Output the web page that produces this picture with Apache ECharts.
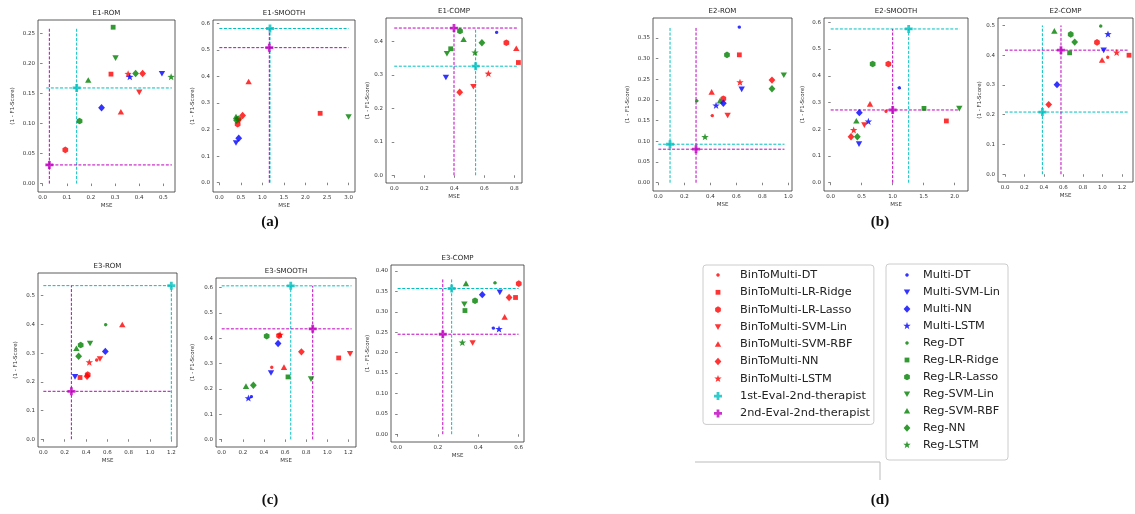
<!doctype html>
<html>
<head>
<meta charset="utf-8">
<title>MSE vs (1 - F1-Score)</title>
<script src="https://cdn.jsdelivr.net/npm/echarts@6/dist/echarts.min.js"></script>
<style>
  html, body { margin: 0; padding: 0; background: #fff; }
  #main { width: 1135px; height: 514px; }
</style>
</head>
<body>
<div id="main"></div>
<script>
// ---- names ----
var leftNames = ['BinToMulti-DT', 'BinToMulti-LR-Ridge', 'BinToMulti-LR-Lasso', 'BinToMulti-SVM-Lin',
  'BinToMulti-SVM-RBF', 'BinToMulti-NN', 'BinToMulti-LSTM', '1st-Eval-2nd-therapist', '2nd-Eval-2nd-therapist'];
var rightNames = ['Multi-DT', 'Multi-SVM-Lin', 'Multi-SVM-RBF', 'Multi-NN', 'Multi-LSTM', 'Reg-DT',
  'Reg-LR-Ridge', 'Reg-LR-Lasso', 'Reg-SVM-Lin', 'Reg-SVM-RBF', 'Reg-NN', 'Reg-LSTM'];
var titles = ['E1-ROM', 'E1-SMOOTH', 'E1-COMP', 'E2-ROM', 'E2-SMOOTH', 'E2-COMP', 'E3-ROM', 'E3-SMOOTH', 'E3-COMP'];

// ---- model points: [model, MSE, 1 - F1] ----
var e1Rom = [
  ['BinToMulti-LR-Lasso', 0.094, 0.056], ['Reg-LR-Lasso', 0.153, 0.104], ['Reg-SVM-RBF', 0.189, 0.172],
  ['Multi-NN', 0.244, 0.126], ['Reg-LR-Ridge', 0.292, 0.26], ['Reg-SVM-Lin', 0.302, 0.209],
  ['BinToMulti-LR-Ridge', 0.283, 0.182], ['BinToMulti-SVM-RBF', 0.324, 0.119], ['BinToMulti-LSTM', 0.354, 0.182],
  ['Multi-LSTM', 0.361, 0.177], ['Reg-NN', 0.385, 0.183], ['BinToMulti-SVM-Lin', 0.4, 0.152],
  ['BinToMulti-NN', 0.414, 0.183], ['Multi-SVM-Lin', 0.494, 0.183], ['Reg-LSTM', 0.532, 0.177]
];
var e1Smooth = [
  ['BinToMulti-SVM-RBF', 0.68, 0.38], ['BinToMulti-LR-Ridge', 2.34, 0.261], ['Reg-SVM-Lin', 3.0, 0.248],
  ['Reg-SVM-RBF', 0.387, 0.248], ['Reg-LR-Lasso', 0.44, 0.24], ['BinToMulti-NN', 0.54, 0.253],
  ['BinToMulti-LR-Lasso', 0.425, 0.22], ['BinToMulti-SVM-Lin', 0.464, 0.233], ['Reg-NN', 0.40, 0.235],
  ['Multi-NN', 0.45, 0.167], ['Multi-SVM-Lin', 0.387, 0.15]
];
var e1Comp = [
  ['Reg-LR-Lasso', 0.438, 0.431], ['Reg-SVM-RBF', 0.462, 0.406], ['Multi-DT', 0.682, 0.427],
  ['Reg-NN', 0.584, 0.396], ['BinToMulti-LR-Lasso', 0.747, 0.396], ['BinToMulti-SVM-RBF', 0.813, 0.379],
  ['BinToMulti-LR-Ridge', 0.827, 0.337], ['Reg-LR-Ridge', 0.376, 0.378], ['Reg-SVM-Lin', 0.351, 0.364],
  ['Reg-LSTM', 0.538, 0.366], ['Multi-SVM-Lin', 0.344, 0.293], ['BinToMulti-LSTM', 0.627, 0.303],
  ['BinToMulti-SVM-Lin', 0.527, 0.265], ['BinToMulti-NN', 0.436, 0.248]
];
var e2Rom = [
  ['Multi-DT', 0.623, 0.376], ['Reg-LR-Lasso', 0.528, 0.309], ['BinToMulti-LR-Ridge', 0.623, 0.309],
  ['BinToMulti-NN', 0.874, 0.248], ['Reg-NN', 0.874, 0.227], ['Reg-SVM-Lin', 0.965, 0.26],
  ['BinToMulti-LSTM', 0.628, 0.242], ['Multi-SVM-Lin', 0.641, 0.226], ['BinToMulti-SVM-RBF', 0.41, 0.219],
  ['BinToMulti-LR-Lasso', 0.5, 0.203], ['Reg-SVM-RBF', 0.474, 0.198], ['Multi-NN', 0.5, 0.192],
  ['Multi-LSTM', 0.444, 0.186], ['Reg-DT', 0.295, 0.198], ['BinToMulti-DT', 0.415, 0.162],
  ['BinToMulti-SVM-Lin', 0.533, 0.163], ['Reg-LSTM', 0.359, 0.11]
];
var e2Smooth = [
  ['Reg-LR-Lasso', 0.677, 0.444], ['BinToMulti-LR-Lasso', 0.93, 0.444], ['Multi-DT', 1.108, 0.355],
  ['BinToMulti-SVM-RBF', 0.634, 0.294], ['BinToMulti-DT', 0.892, 0.267], ['Reg-LR-Ridge', 1.505, 0.278],
  ['Reg-SVM-Lin', 2.075, 0.278], ['BinToMulti-LR-Ridge', 1.866, 0.231], ['Multi-NN', 0.462, 0.262],
  ['Reg-SVM-RBF', 0.414, 0.231], ['BinToMulti-SVM-Lin', 0.543, 0.216], ['Multi-LSTM', 0.608, 0.228],
  ['BinToMulti-LSTM', 0.371, 0.196], ['BinToMulti-NN', 0.328, 0.172], ['Reg-NN', 0.43, 0.172],
  ['Multi-SVM-Lin', 0.457, 0.145]
];
var e2Comp = [
  ['Reg-SVM-RBF', 0.507, 0.481], ['Reg-DT', 0.983, 0.498], ['Reg-LR-Lasso', 0.675, 0.47],
  ['Reg-NN', 0.716, 0.444], ['Multi-LSTM', 1.058, 0.47], ['BinToMulti-LR-Lasso', 0.945, 0.443],
  ['Reg-LR-Ridge', 0.664, 0.408], ['Multi-SVM-Lin', 1.014, 0.417], ['BinToMulti-LSTM', 1.147, 0.408],
  ['BinToMulti-LR-Ridge', 1.274, 0.4], ['BinToMulti-SVM-RBF', 0.997, 0.383], ['BinToMulti-DT', 1.055, 0.393],
  ['Multi-NN', 0.534, 0.301], ['BinToMulti-NN', 0.449, 0.234]
];
var e3Rom = [
  ['Reg-DT', 0.584, 0.399], ['BinToMulti-SVM-RBF', 0.74, 0.399], ['Reg-SVM-Lin', 0.438, 0.334],
  ['Reg-LR-Lasso', 0.35, 0.328], ['Reg-SVM-RBF', 0.31, 0.316], ['Reg-NN', 0.331, 0.289],
  ['Multi-NN', 0.581, 0.306], ['BinToMulti-LSTM', 0.431, 0.267], ['BinToMulti-DT', 0.5, 0.276],
  ['BinToMulti-SVM-Lin', 0.531, 0.28], ['BinToMulti-LR-Lasso', 0.416, 0.225], ['BinToMulti-NN', 0.41, 0.219],
  ['BinToMulti-LR-Ridge', 0.344, 0.215], ['Multi-SVM-Lin', 0.297, 0.218]
];
var e3Smooth = [
  ['Reg-LR-Lasso', 0.426, 0.408], ['BinToMulti-LR-Lasso', 0.543, 0.41], ['BinToMulti-LSTM', 0.553, 0.413],
  ['Multi-NN', 0.534, 0.379], ['BinToMulti-NN', 0.755, 0.346], ['BinToMulti-LR-Ridge', 1.108, 0.322],
  ['BinToMulti-SVM-Lin', 1.216, 0.339], ['BinToMulti-DT', 0.474, 0.285], ['BinToMulti-SVM-RBF', 0.59, 0.285],
  ['Multi-SVM-Lin', 0.467, 0.263], ['Reg-LR-Ridge', 0.628, 0.247], ['Reg-SVM-Lin', 0.846, 0.239],
  ['Reg-SVM-RBF', 0.23, 0.21], ['Reg-NN', 0.3, 0.214], ['Multi-LSTM', 0.253, 0.162], ['Multi-DT', 0.281, 0.169]
];
var e3Comp = [
  ['Reg-SVM-RBF', 0.339, 0.369], ['Reg-DT', 0.483, 0.371], ['BinToMulti-LR-Lasso', 0.601, 0.369],
  ['Multi-NN', 0.42, 0.342], ['Multi-SVM-Lin', 0.507, 0.348], ['BinToMulti-NN', 0.553, 0.335],
  ['BinToMulti-LR-Ridge', 0.585, 0.335], ['Reg-LR-Lasso', 0.384, 0.327], ['Reg-SVM-Lin', 0.331, 0.319],
  ['Reg-LR-Ridge', 0.334, 0.303], ['BinToMulti-SVM-RBF', 0.531, 0.287], ['Multi-DT', 0.475, 0.26],
  ['Multi-LSTM', 0.503, 0.257], ['Reg-LSTM', 0.321, 0.224], ['BinToMulti-SVM-Lin', 0.372, 0.224]
];
var panels = [e1Rom, e1Smooth, e1Comp, e2Rom, e2Smooth, e2Comp, e3Rom, e3Smooth, e3Comp];

// ---- therapist reference points [MSE, 1 - F1] per panel ----
var refFirst = [[0.141, 0.159], [1.176, 0.58], [0.542, 0.326], [0.09, 0.093], [1.258, 0.575],
  [0.384, 0.209], [1.2, 0.535], [0.654, 0.607], [0.268, 0.357]];
var refSecond = [[0.028, 0.031], [1.16, 0.508], [0.398, 0.44], [0.29, 0.081], [1.0, 0.272],
  [0.575, 0.417], [0.263, 0.167], [0.862, 0.437], [0.224, 0.245]];
// extent of dashed guides: horizontal ones over guideX, vertical ones over guideY
var guideX = [[0.015, 0.535], [0, 3.0], [0, 0.82], [0, 0.97], [0, 2.08], [0, 1.27], [0, 1.2], [0, 1.23], [0, 0.6]];
var guideY = [[0, 0.26], [0, 0.58], [0, 0.44], [0, 0.376], [0, 0.575], [0, 0.5], [0, 0.535], [0, 0.607], [0, 0.38]];

// ---- tick labels ----
var xTicks = [
  [0, 0.1, 0.2, 0.3, 0.4, 0.5], [0, 0.5, 1, 1.5, 2, 2.5, 3], [0, 0.2, 0.4, 0.6, 0.8],
  [0, 0.2, 0.4, 0.6, 0.8, 1], [0, 0.5, 1, 1.5, 2], [0, 0.2, 0.4, 0.6, 0.8, 1, 1.2],
  [0, 0.2, 0.4, 0.6, 0.8, 1, 1.2], [0, 0.2, 0.4, 0.6, 0.8, 1, 1.2], [0, 0.2, 0.4, 0.6]
];
var yTicks = [
  [0, 0.05, 0.1, 0.15, 0.2, 0.25], [0, 0.1, 0.2, 0.3, 0.4, 0.5, 0.6], [0, 0.1, 0.2, 0.3, 0.4],
  [0, 0.05, 0.1, 0.15, 0.2, 0.25, 0.3, 0.35], [0, 0.1, 0.2, 0.3, 0.4, 0.5, 0.6], [0, 0.1, 0.2, 0.3, 0.4, 0.5],
  [0, 0.1, 0.2, 0.3, 0.4, 0.5], [0, 0.1, 0.2, 0.3, 0.4, 0.5, 0.6], [0, 0.05, 0.1, 0.15, 0.2, 0.25, 0.3, 0.35, 0.4]
];
var yDecimals = [2, 1, 1, 2, 1, 1, 1, 1, 2];

// ---- layout ----
var grids = [[38, 20, 137, 172], [213, 20, 142, 172], [386, 18, 136, 165],
  [653, 18, 139, 173], [824, 18, 144, 173], [998, 18, 135, 164],
  [38, 273, 139, 174], [216, 278, 140, 169], [391, 265, 133, 177]];
var xLim = [[-0.019, 0.548], [-0.147, 3.149], [-0.055, 0.851], [-0.041, 1.028], [-0.108, 2.215],
  [-0.072, 1.315], [-0.05, 1.253], [-0.054, 1.272], [-0.033, 0.627]];
var yLim = [[-0.014, 0.272], [-0.035, 0.612], [-0.023, 0.47], [-0.02, 0.398], [-0.031, 0.616],
  [-0.026, 0.525], [-0.027, 0.579], [-0.03, 0.638], [-0.019, 0.4146]];
var yNameGap = [22, 17, 15, 22, 18, 14, 19, 20, 20];

var RED = '#ff0000', BLUE = '#0000ff', GREEN = '#008000', CYAN = '#00bfbf', MAGENTA = '#bf00bf';
var FONT = 'DejaVu Sans';

// marker shapes drawn in a 10x10 box (the two moves pin the box)
function shape(pts) {
  return 'path://M0,0M10,10' + pts.map(function (p, i) {
    return (i ? 'L' : 'M') + p[0].toFixed(2) + ',' + p[1].toFixed(2);
  }).join('') + 'Z';
}
function ring(n, r1, r2) {
  var pts = [];
  for (var k = 0; k < n; k++) {
    var a = -Math.PI / 2 + k * Math.PI * 2 / n;
    var r = (r2 && k % 2) ? r2 : r1;
    pts.push([5 + r * Math.cos(a), 5 + r * Math.sin(a)]);
  }
  return shape(pts);
}
var markers = {
  dot: ring(10, 1.7),
  square: shape([[2.6, 2.6], [7.4, 2.6], [7.4, 7.4], [2.6, 7.4]]),
  hexagon: ring(6, 3.3),
  down: shape([[1.8, 2.4], [8.2, 2.4], [5, 8]]),
  up: shape([[5, 2], [8.2, 7.6], [1.8, 7.6]]),
  diamond: shape([[5, 1.3], [8.4, 5], [5, 8.7], [1.6, 5]]),
  star: ring(10, 3.9, 1.6),
  plus: shape([[3.6, 1], [6.4, 1], [6.4, 3.6], [9, 3.6], [9, 6.4], [6.4, 6.4], [6.4, 9], [3.6, 9],
    [3.6, 6.4], [1, 6.4], [1, 3.6], [3.6, 3.6]])
};
function markerOf(name) {
  if (/therapist$/.test(name)) return markers.plus;
  if (/-DT$/.test(name)) return markers.dot;
  if (/Ridge$/.test(name)) return markers.square;
  if (/Lasso$/.test(name)) return markers.hexagon;
  if (/SVM-Lin$/.test(name)) return markers.down;
  if (/SVM-RBF$/.test(name)) return markers.up;
  if (/-NN$/.test(name)) return markers.diamond;
  return markers.star;
}
function colorOf(name) {
  if (name.indexOf('BinToMulti') === 0) return RED;
  if (name.indexOf('Multi') === 0) return BLUE;
  if (name.indexOf('Reg') === 0) return GREEN;
  if (name.indexOf('1st') === 0) return CYAN;
  return MAGENTA;
}

var chart = echarts.init(document.getElementById('main'));
var option = {
  animation: false,
  backgroundColor: '#fff',
  textStyle: { fontFamily: FONT },
  grid: [], xAxis: [], yAxis: [], series: [], graphic: []
};

panels.forEach(function (pts, i) {
  var g = grids[i];
  option.grid.push({
    left: g[0], top: g[1], width: g[2], height: g[3],
    show: true, borderColor: '#333', borderWidth: 0.8, backgroundColor: '#fff'
  });
  option.xAxis.push({
    type: 'value', gridIndex: i, min: xLim[i][0], max: xLim[i][1],
    name: 'MSE', nameLocation: 'middle', nameGap: 11,
    nameTextStyle: { fontSize: 5.5, color: '#333', fontFamily: FONT },
    axisLine: { show: false },
    axisTick: { show: true, length: 2.5, customValues: xTicks[i], lineStyle: { color: '#333', width: 0.6 } },
    axisLabel: {
      customValues: xTicks[i], fontSize: 5.5, color: '#333', margin: 3, fontFamily: FONT,
      formatter: function (v) { return v.toFixed(1); }
    },
    splitLine: { show: false }
  });
  option.yAxis.push({
    type: 'value', gridIndex: i, min: yLim[i][0], max: yLim[i][1],
    name: '(1 - F1-Score)', nameLocation: 'middle', nameGap: yNameGap[i],
    nameTextStyle: { fontSize: 5.5, color: '#333', fontFamily: FONT },
    axisLine: { show: false },
    axisTick: { show: true, length: 2.5, customValues: yTicks[i], lineStyle: { color: '#333', width: 0.6 } },
    axisLabel: {
      customValues: yTicks[i], fontSize: 5.5, color: '#333', margin: 3, fontFamily: FONT,
      formatter: function (v) { return v.toFixed(yDecimals[i]); }
    },
    splitLine: { show: false }
  });

  // dashed guides through the two therapist points
  [refFirst, refSecond].forEach(function (refs, k) {
    var r = refs[i];
    var line = { color: k ? MAGENTA : CYAN, width: 1, type: [3, 1.6] };
    option.series.push({
      type: 'line', xAxisIndex: i, yAxisIndex: i, symbol: 'none', silent: true, z: 1,
      lineStyle: line, data: [[guideX[i][0], r[1]], [guideX[i][1], r[1]]]
    });
    option.series.push({
      type: 'line', xAxisIndex: i, yAxisIndex: i, symbol: 'none', silent: true, z: 1,
      lineStyle: line, data: [[r[0], guideY[i][0]], [r[0], guideY[i][1]]]
    });
  });

  pts.forEach(function (p) {
    option.series.push({
      type: 'scatter', name: p[0], xAxisIndex: i, yAxisIndex: i, z: 3,
      symbol: markerOf(p[0]), symbolSize: 10, itemStyle: { color: colorOf(p[0]) },
      data: [[p[1], p[2]]]
    });
  });
  [[leftNames[7], refFirst], [leftNames[8], refSecond]].forEach(function (ref) {
    option.series.push({
      type: 'scatter', name: ref[0], xAxisIndex: i, yAxisIndex: i, z: 4,
      symbol: markers.plus, symbolSize: 10, itemStyle: { color: colorOf(ref[0]) },
      data: [ref[1][i]]
    });
  });

  option.graphic.push({
    type: 'text', x: g[0] + g[2] / 2, y: g[1] - 7,
    style: { text: titles[i], font: '7px "DejaVu Sans"', fill: '#222', align: 'center', verticalAlign: 'middle',
      textAlign: 'center', textVerticalAlign: 'middle' }
  });
});

// legends (d)
function legendData(names) {
  return names.map(function (n) { return { name: n, icon: markerOf(n) }; });
}
option.legend = [
  {
    data: legendData(leftNames), orient: 'vertical', left: 703, top: 265,
    itemWidth: 10, itemHeight: 10, itemGap: 5.3, selectedMode: false,
    padding: [4, 4, 5, 10], borderColor: '#ccc', borderWidth: 1, borderRadius: 3, backgroundColor: '#fff',
    textStyle: { fontSize: 11.3, lineHeight: 12, color: '#222', fontFamily: FONT, padding: [0, 0, 0, 12] }
  },
  {
    data: legendData(rightNames), orient: 'vertical', left: 886, top: 264,
    itemWidth: 10, itemHeight: 10, itemGap: 5, selectedMode: false,
    padding: [5, 8, 9, 16], borderColor: '#ccc', borderWidth: 1, borderRadius: 3, backgroundColor: '#fff',
    textStyle: { fontSize: 11.3, lineHeight: 12, color: '#222', fontFamily: FONT, padding: [0, 0, 0, 6] }
  }
];

// sub-figure captions
[['(a)', 270, 222], ['(b)', 880, 222], ['(c)', 270, 500], ['(d)', 880, 500]].forEach(function (c) {
  option.graphic.push({
    type: 'text', x: c[1], y: c[2],
    style: { text: c[0], font: 'bold 15px "Liberation Serif"', fill: '#111', align: 'center', verticalAlign: 'middle',
      textAlign: 'center', textVerticalAlign: 'middle' }
  });
});
// stray frame edge under the legends
option.graphic.push({
  type: 'polyline', silent: true,
  shape: { points: [[695, 462], [880, 462], [880, 480]] },
  style: { stroke: '#bbb', lineWidth: 1, fill: null }
});

chart.setOption(option);
</script>
</body>
</html>
